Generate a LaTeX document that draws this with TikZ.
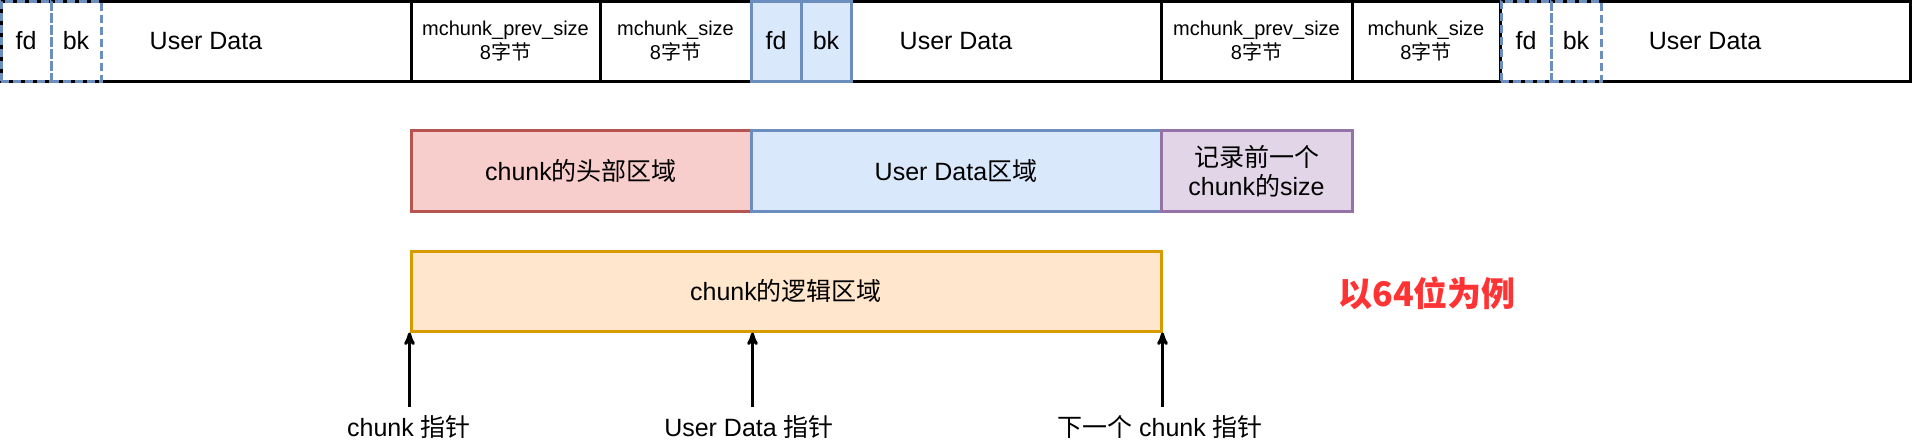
\documentclass[tikz,border=0pt]{standalone}
\usepackage{fontspec}
\setmainfont{Liberation Sans}
\newfontfamily\cjk{Noto Sans CJK SC}
\newcommand{\zh}[1]{{\cjk #1}}
\usepackage{tikz}
\usetikzlibrary{arrows}

\definecolor{hdfill}{HTML}{F8CECC}
\definecolor{hdline}{HTML}{B85450}
\definecolor{udfill}{HTML}{DAE8FC}
\definecolor{udline}{HTML}{6C8EBF}
\definecolor{psfill}{HTML}{E1D5E7}
\definecolor{psline}{HTML}{9673A6}
\definecolor{lbfill}{HTML}{FFE6CC}
\definecolor{lbline}{HTML}{D79B00}
\definecolor{note}{HTML}{FF3333}

\begin{document}
\begin{tikzpicture}[x=1pt,y=-1pt,>=stealth',line width=3pt,
    every node/.style={font=\fontsize{25}{29}\selectfont,align=center,inner sep=0pt},
    cell/.style={draw,minimum height=80pt},
    small/.style={font=\fontsize{20}{24}\selectfont},
    ptr/.style={draw=udline,minimum width=50pt,minimum height=80pt},
    freeptr/.style={ptr,dash pattern=on 8pt off 4pt},
    usedptr/.style={ptr,fill=udfill},
    area/.style={draw,minimum height=81pt}]
  \useasboundingbox (0,0) rectangle (1913,445);

  % memory row
  \node[cell]                      (c0) at (206,41)    [minimum width=410] {User Data};
  \node[cell,small]                (c1) at (505.5,41)  [minimum width=189] {mchunk\_prev\_size\\8\zh{字节}};
  \node[cell,small]                (c2) at (675.5,41)  [minimum width=151] {mchunk\_size\\8\zh{字节}};
  \node[cell]                      (c3) at (956,41)    [minimum width=410] {User Data};
  \node[cell,small]                (c4) at (1256.5,41) [minimum width=191] {mchunk\_prev\_size\\8\zh{字节}};
  \node[cell,small]                (c5) at (1426,41)   [minimum width=148] {mchunk\_size\\8\zh{字节}};
  \node[cell]                      (c6) at (1705,41)   [minimum width=410] {User Data};

  \node[freeptr] (f0) at (26,41)     {fd};
  \node[freeptr] (b0) at (76,41)     {bk};
  \node[usedptr] (f1) at (776,41)    {fd};
  \node[usedptr] (b1) at (826,41)    {bk};
  \node[freeptr] (f2) at (1526,41)   {fd};
  \node[freeptr] (b2) at (1576,41)   {bk};

  % chunk areas
  \node[area,draw=hdline,fill=hdfill] (hd) at (581,171)    [minimum width=340] {chunk\zh{的头部区域}};
  \node[area,draw=udline,fill=udfill] (ud) at (956,171)    [minimum width=410] {User Data\zh{区域}};
  \node[area,draw=psline,fill=psfill] (ps) at (1256.5,171) [minimum width=191] {\zh{记录前一个}\\chunk\zh{的}size};

  \node[area,draw=lbline,fill=lbfill,minimum height=80pt] (lb) at (786,291) [minimum width=750] {chunk\zh{的逻辑区域}};

  \node[text=note,font=\fontsize{34}{40}\selectfont\cjk\bfseries] (n) at (1427,293) {以64位为例};

  % pointers
  \node[inner xsep=2pt,inner ysep=7pt] (p0) at (409,427)  {chunk \zh{指针}};
  \node[inner xsep=2pt,inner ysep=7pt] (p1) at (749,427)  {User Data \zh{指针}};
  \node[inner xsep=2pt,inner ysep=7pt] (p2) at (1160,427) {\zh{下一个} chunk \zh{指针}};

  \draw[->] (lb.south west |- p0.north) -- (lb.south west);
  \draw[->] (hd.east |- p1.north) -- (lb.south -| hd.east);
  \draw[->] (lb.south east |- p2.north) -- (lb.south east);
\end{tikzpicture}
\end{document}
